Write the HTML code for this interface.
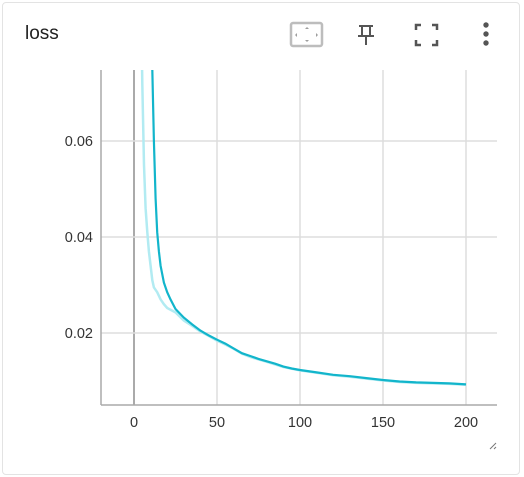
<!DOCTYPE html>
<html><head><meta charset="utf-8"><style>
body{margin:0;background:#fff;font-family:"Liberation Sans",Roboto,sans-serif}
#card{position:absolute;left:2px;top:2px;width:516px;height:471px;border:1px solid #e3e3e3;border-radius:4px;background:#fff}
#title{position:absolute;left:25px;top:23px;font-size:19px;color:#212121}
svg{position:absolute;left:0;top:0}
</style></head><body>
<div id="card"></div>
<div id="title">loss</div>
<svg width="524" height="477" id="svg">
 <g>
  <rect x="291" y="23" width="31" height="23" rx="2" fill="none" stroke="#bdbdbd" stroke-width="2.5"/>
  <path d="M305 29l2-2 2 2zM305 40l2 2 2-2zM297 33l-2 2 2 2zM316 33l2 2-2 2z" fill="#9e9e9e"/>
 </g>
 <g stroke="#555" stroke-width="2" fill="none">
  <path d="M359 26h14M362 26v10M370 26v10M358 36h16M366 36v9"/>
 </g>
 <g stroke="#555" stroke-width="2.5" fill="none">
  <path d="M416 30v-5h5M432 25h5v5M437 40v5h-5M421 45h-5v-5"/>
 </g>
 <g fill="#555">
  <circle cx="486" cy="25" r="2.7"/><circle cx="486" cy="34" r="2.7"/><circle cx="486" cy="43" r="2.7"/>
 </g>
 <g id="grid"></g>
 <g id="axes"></g>
 <g id="series"></g>
 <path d="M490 449l6-6M494 449l2-2" stroke="#777" stroke-width="1"/>
</svg>
<script>
const xTicks=[0,50,100,150,200];
const yTicks=[0.02,0.04,0.06];
const rawSteps=[4,5,6,7,8,9,10,11,12,14,16,18,20,25,30,35,40,45,50,55,60,65,70,80,90,100,110,120,130,140,150,160,170,180,190,200];
const rawValues=[0.095,0.072,0.055,0.046,0.041,0.037,0.034,0.031,0.0295,0.0285,0.027,0.026,0.0252,0.0243,0.0226,0.0215,0.0203,0.0194,0.0184,0.0176,0.0167,0.0157,0.0150,0.0140,0.0129,0.0122,0.0117,0.0112,0.0109,0.0105,0.0101,0.0098,0.0096,0.0095,0.0094,0.0092];
const smoothSteps=[10,11,12,13,14,15,16,18,20,22,25,30,35,40,45,50,55,60,65,70,75,80,85,90,95,100,110,120,130,140,150,160,170,180,190,200];
const smoothValues=[0.095,0.075,0.060,0.048,0.041,0.037,0.034,0.0305,0.0285,0.027,0.025,0.0232,0.0218,0.0205,0.0195,0.0186,0.0178,0.0168,0.0158,0.0152,0.0146,0.0141,0.0136,0.0130,0.0126,0.0123,0.0118,0.0113,0.0110,0.0106,0.0102,0.0099,0.0097,0.0096,0.0095,0.0093];
const L=101,R=497,T=70,B=405;
const X=s=>134+s*1.66;
const Y=v=>429-v*4800;
const NS='http://www.w3.org/2000/svg';
function mk(t,a,p){const e=document.createElementNS(NS,t);for(const k in a)e.setAttribute(k,a[k]);document.getElementById(p).appendChild(e);return e;}
xTicks.forEach(t=>{
 const l=mk('line',{x1:X(t),x2:X(t),y1:T,y2:B,stroke:t===0?'#aaa':'#ddd','stroke-width':t===0?2:1.5},'grid');
 
 
 const tx=mk('text',{x:X(t),y:427,'text-anchor':'middle','font-size':14.5,fill:'#333'},'axes');
 tx.textContent=t;
 
 
});
yTicks.forEach(t=>{
 const l=mk('line',{x1:L,x2:R,y1:Y(t),y2:Y(t),stroke:'#ddd','stroke-width':1.5},'grid');
 
 
 const tx=mk('text',{x:93,y:Y(t)+5,'text-anchor':'end','font-size':14.5,fill:'#333'},'axes');
 tx.textContent=t.toFixed(2);
 
 
});
const ya=mk('line',{x1:L,x2:L,y1:T,y2:B,stroke:'#aaa','stroke-width':1.5},'axes');


const xa=mk('line',{x1:L,x2:R,y1:B,y2:B,stroke:'#aaa','stroke-width':1.5},'axes');


mk('clipPath',{id:'cp'},'series');
mk('rect',{x:L,y:T,width:R-L,height:B-T},'cp');
function pts(s,v){return s.map((x,i)=>X(x).toFixed(1)+','+Y(v[i]).toFixed(1)).join(' ');}
const raw=mk('polyline',{points:pts(rawSteps,rawValues),fill:'none',stroke:'#b2ebf2','stroke-width':2.5,'clip-path':'url(#cp)'},'series');


const sm=mk('polyline',{points:pts(smoothSteps,smoothValues),fill:'none',stroke:'#12b5cb','stroke-width':2.2,'clip-path':'url(#cp)'},'series');


</script>
</body></html>
